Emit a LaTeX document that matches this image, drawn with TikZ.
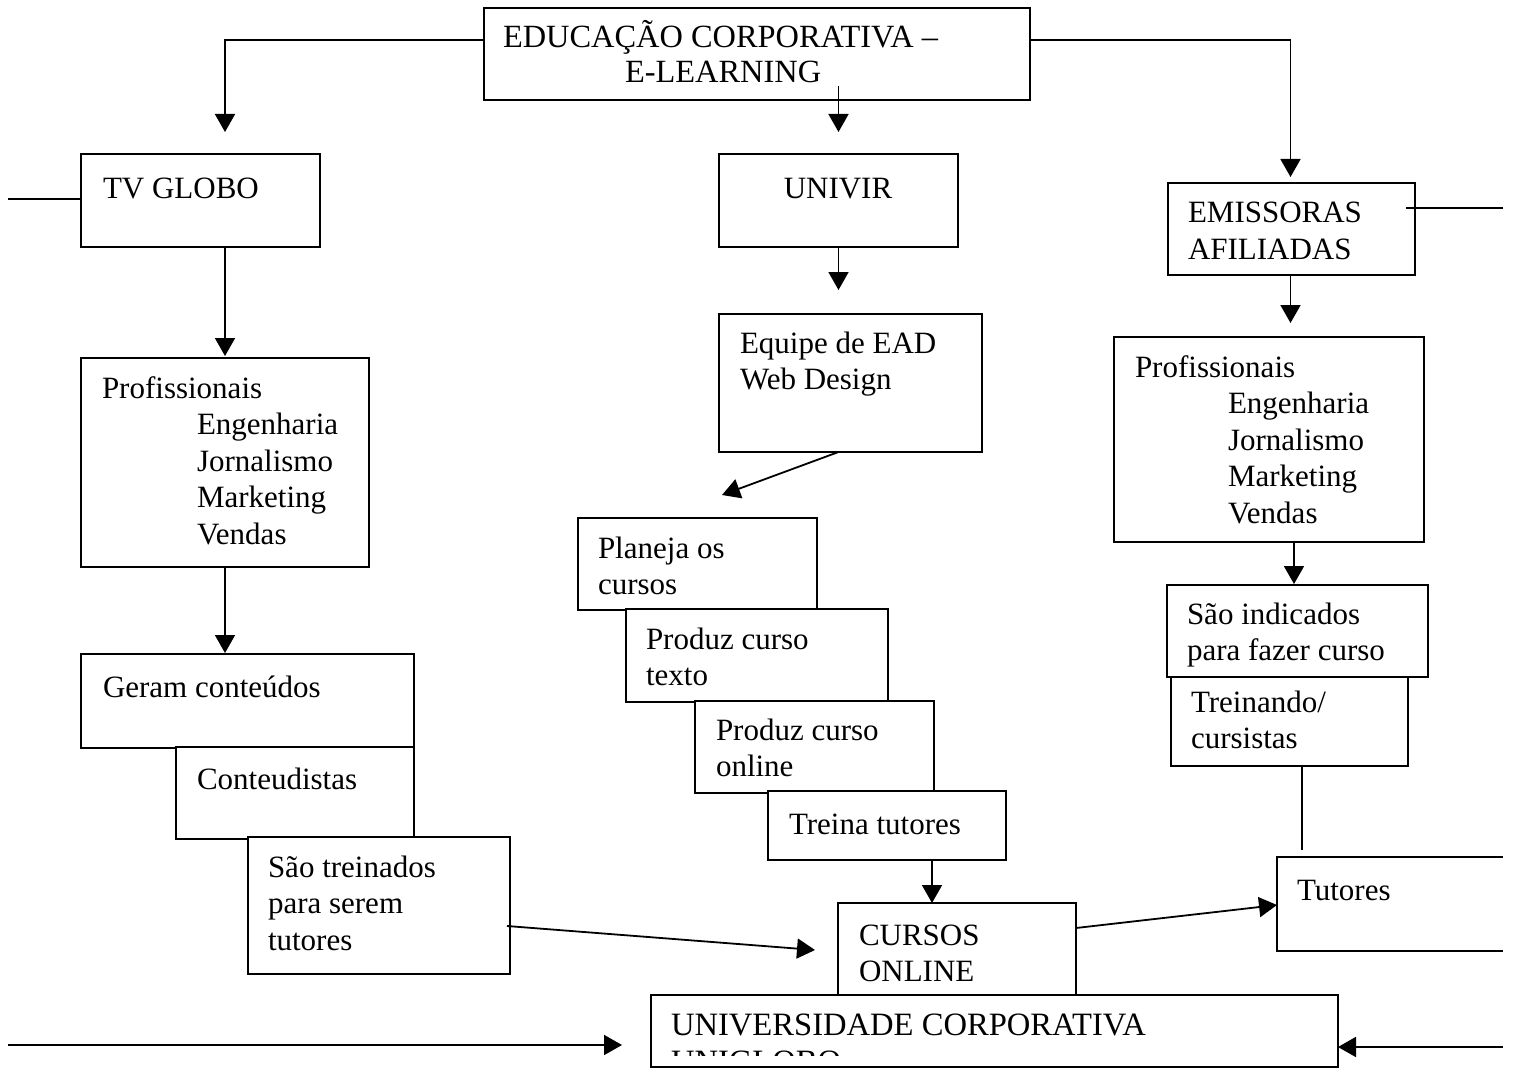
\documentclass[tikz,border=0pt]{standalone}
\usepackage{fontspec}
\setmainfont{Liberation Serif}
\usetikzlibrary{arrows.meta,calc}
\newcommand\tlines[1]{\vtop{\halign{##\hfil\cr#1\crcr}}}
\begin{document}
\begin{tikzpicture}[x=1pt,y=-1pt,
  box/.style={draw, fill=white, line width=1.8pt, inner sep=0pt, outer sep=0pt, anchor=north west},
  openbox/.style={inner sep=0pt, outer sep=0pt, anchor=north west},
  txt/.style={inner sep=0pt, outer sep=0pt, anchor=base west, font=\fontsize{31}{36.6}\selectfont},
  conn/.style={line width=1.8pt},
  arr/.style={line width=1.8pt, -{Triangle[length=18pt,width=20pt]}},
]
\useasboundingbox[fill=white] (0,0) rectangle (1513,1078);

% column helpers
\coordinate (cL) at (225,0);
\coordinate (cR) at (1294,0);
\coordinate (cT) at (1302,0);
\coordinate (cC) at (932,0);

% top box
\node[box, minimum width=546pt, minimum height=92pt] (top) at (484,8) {};
\node[txt] (top-t) at (503,48) {\fontsize{32.4}{35}\selectfont\tlines{EDUCAÇÃO CORPORATIVA –\cr\hskip122pt E-LEARNING}};

% left column
\node[box, minimum width=239pt, minimum height=93pt] (tvg) at (81,154) {};
\node[txt] (tvg-t) at (103,199) {TV GLOBO};
\node[box, minimum width=288pt, minimum height=209pt] (profL) at (81,358) {};
\node[txt] (profL-t) at (102,398) {\tlines{Profissionais\cr\hskip95pt Engenharia\cr\hskip95pt Jornalismo\cr\hskip95pt Marketing\cr\hskip95pt Vendas}};
\node[box, minimum width=333pt, minimum height=94pt] (geram) at (81,654) {};
\node[txt] (geram-t) at (103,697) {Geram conteúdos};
\node[box, minimum width=238pt, minimum height=92pt] (conteud) at (176,747) {};
\node[txt] (conteud-t) at (197,789) {Conteudistas};
\node[box, minimum width=262pt, minimum height=137pt] (saotrein) at (248,837) {};
\node[txt] (saotrein-t) at (268,877) {\tlines{São treinados\cr para serem\cr tutores}};

% middle column
\node[box, minimum width=239pt, minimum height=93pt] (univir) at (719,154) {};
\node[txt, anchor=base] (univir-t) at (838,199) {UNIVIR};
\node[box, minimum width=263pt, minimum height=138pt] (equipe) at (719,314) {};
\node[txt] (equipe-t) at (740,353) {\tlines{Equipe de EAD\cr Web Design}};
\node[box, minimum width=239pt, minimum height=92pt] (planeja) at (578,518) {};
\node[txt] (planeja-t) at (598,558) {\tlines{Planeja os\cr cursos}};
\node[box, minimum width=262pt, minimum height=93pt] (prodtexto) at (626,609) {};
\node[txt] (prodtexto-t) at (646,649) {\tlines{Produz curso\cr texto}};
\node[box, minimum width=239pt, minimum height=92pt] (prodonline) at (695,701) {};
\node[txt] (prodonline-t) at (716,740) {\tlines{Produz curso\cr online}};
\node[box, minimum width=238pt, minimum height=69pt] (treina) at (768,791) {};
\node[txt] (treina-t) at (789,834) {Treina tutores};
\node[box, minimum width=238pt, minimum height=97pt] (cursos) at (838,903) {};
\node[txt] (cursos-t) at (859,945) {\tlines{CURSOS\cr ONLINE}};

% right column
\node[box, minimum width=247pt, minimum height=92pt] (emis) at (1168,183) {};
\node[txt] (emis-t) at (1188,223) {\tlines{EMISSORAS\cr AFILIADAS}};
\node[box, minimum width=310pt, minimum height=205pt] (profR) at (1114,337) {};
\node[txt] (profR-t) at (1135,377) {\tlines{Profissionais\cr\hskip93pt Engenharia\cr\hskip93pt Jornalismo\cr\hskip93pt Marketing\cr\hskip93pt Vendas}};
\node[box, minimum width=261pt, minimum height=92pt] (saoind) at (1167,585) {};
\node[txt] (saoind-t) at (1187,624) {\tlines{São indicados\cr para fazer curso}};
\node[box, minimum width=237pt, minimum height=89pt] (treinando) at (1171,677) {};
\node[txt] (treinando-t) at (1191,712) {\tlines{Treinando/\cr cursistas}};
\node[openbox, minimum width=226pt, minimum height=94pt] (tutores) at (1277,857) {};
\draw[conn] (tutores.north east) -- (tutores.north west) -- (tutores.south west) -- (tutores.south east);
\node[txt] (tutores-t) at (1297,900) {Tutores};

% bottom box
\node[box, minimum width=687pt, minimum height=72pt] (univ) at (651,995) {};
\begin{scope}
  \clip (651,995) rectangle (1338,1055);
  \node[txt] (univ-t) at (671,1035) {\fontsize{32.6}{37.5}\selectfont\tlines{UNIVERSIDADE CORPORATIVA\cr UNIGLOBO}};
\end{scope}

% connectors
\coordinate (eL) at (225,132);
\draw[arr] (top.north west |- 0,40) -| (eL);
\draw[arr] (univir.north |- 0,86) -- (univir.north |- 0,132);
\draw[arr] (top.north east |- 0,40) -| ($(emis.north)+(-1,-6)$);
\coordinate (stubL) at (8,199);
\draw[conn] (stubL) -- (tvg.west |- stubL);
\coordinate (stubR) at (1503,208);
\draw[conn] (stubR) -- ($(emis.east |- stubR)+(-9,0)$);
\draw[arr] (tvg.south -| cL) -- ($(profL.north -| cL)+(0,-2)$);
\draw[arr] (profL.south -| cL) -- ($(geram.north -| cL)+(0,-1)$);
\draw[arr] ($(saotrein.north east)+(-3,89)$) -- ($(cursos.north west)+(-23,47)$);
\draw[arr] (univir.south) -- ($(univir.south |- equipe.north)+(0,-24)$);
\draw[arr] (equipe.south -| univir.south) -- ($(planeja.north west)+(144,-23)$);
\draw[arr] (treina.south -| cC) -- (cursos.north -| cC);
\draw[arr] ($(cursos.north east)+(0,25)$) -- ($(tutores.north west)+(0,48)$);
\draw[arr] ($(emis.south)+(-1,0)$) -- ($(emis.south |- profR.north)+(-1,-14)$);
\draw[arr] (profR.south -| cR) -- ($(saoind.north -| cR)+(0,-1)$);
\draw[conn] (treinando.south -| cT) -- ($(tutores.north -| cT)+(0,-7)$);
\coordinate (bL) at (8,1045);
\draw[arr] (bL) -- ($(univ.west |- bL)+(-29,0)$);
\coordinate (bR) at (1503,1047);
\draw[arr] (bR) -- (univ.east |- bR);
\end{tikzpicture}
\end{document}
